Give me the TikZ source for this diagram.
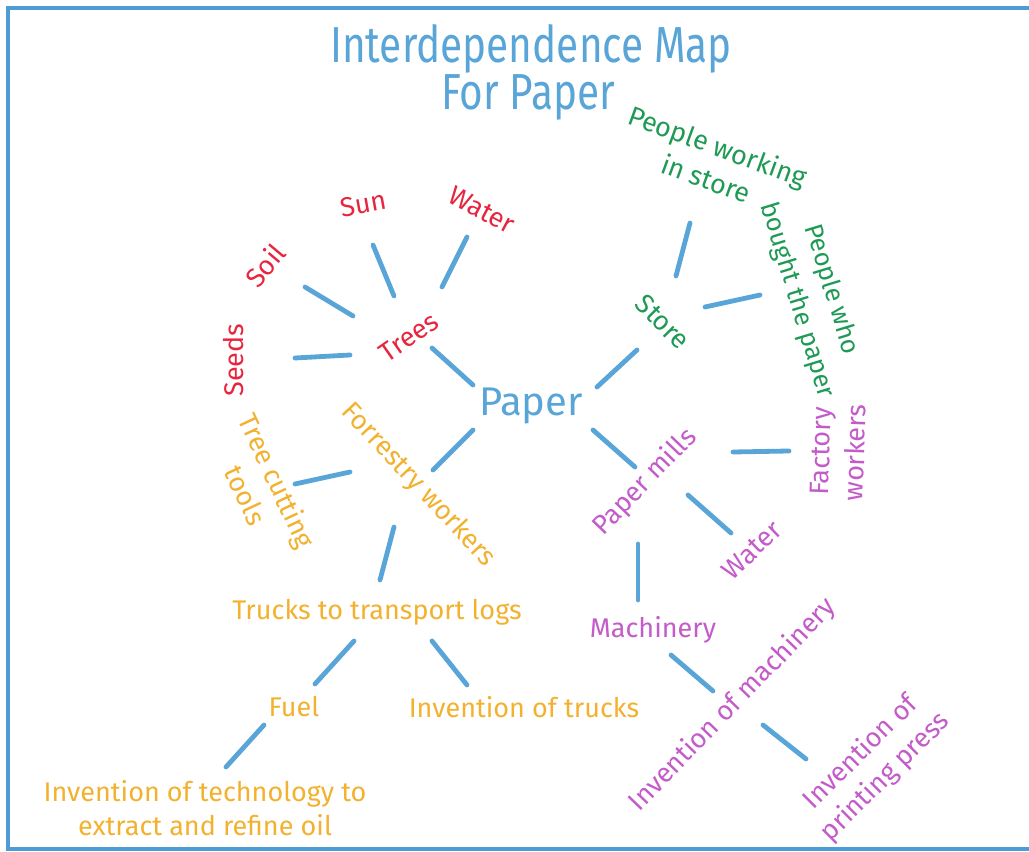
\documentclass[tikz,border=0pt]{standalone}
\usepackage{fontspec}
\setmainfont{Fira Sans}
\newfontfamily\titlefont[FakeStretch=0.8]{Fira Sans}
\definecolor{mapblue}{HTML}{5AA5D8}
\definecolor{frameblue}{HTML}{4F9BD6}
\definecolor{mapred}{HTML}{E8253F}
\definecolor{mapgreen}{HTML}{1F9A55}
\definecolor{maporange}{HTML}{F2B12E}
\definecolor{mappurple}{HTML}{C35BC9}
\tikzset{
  link/.style={draw=mapblue, line width=3.6pt, line cap=round},
  frameline/.style={draw=frameblue, line width=2.4pt},
  lbl/.style={inner sep=0pt, align=center, font=\fontsize{20.25}{26}\selectfont},
  rlbl/.style={lbl, text=mapred},
  glbl/.style={lbl, text=mapgreen},
  olbl/.style={lbl, text=maporange},
  plbl/.style={lbl, text=mappurple},
  titlelbl/.style={inner sep=0pt, text=mapblue, font=\titlefont\fontsize{38}{44}\selectfont},
}
\begin{document}
\begin{tikzpicture}[x=0.75pt, y=-0.75pt]
\useasboundingbox (0,0) rectangle (1029,852);
% frame
\coordinate (fa) at (1029,8);
\coordinate (fb) at (8,8);
\coordinate (fc) at (8,849);
\coordinate (fd) at (1029,849);
\draw[frameline] (fa) -- (fb) -- (fc) -- (fd);

% title
\node[titlelbl] (title1) at (531,49) {Interdependence Map};
\node[titlelbl] (title2) at (528,97) {For Paper};

% centre
\node[inner sep=0pt, text=mapblue, font=\fontsize{30}{36}\selectfont] (paper) at (531,406) {Paper};

% red
\node[rlbl, rotate=35] (trees) at (409,337) {Trees};
\node[rlbl, rotate=10] (sun) at (363,204) {Sun};
\node[rlbl, rotate=-28] (waterr) at (482,210) {Water};
\node[rlbl, rotate=50] (soil) at (265,265) {Soil};
\node[rlbl, rotate=90] (seeds) at (234,360) {Seeds};

% green
\node[glbl, rotate=-45] (store) at (663,322) {Store};
\node[glbl, rotate=-20] (pwork) at (712,162) {People working\\in store};
\node[glbl, rotate=-73, font=\fontsize{19.25}{27}\selectfont] (pbuy) at (814,295) {People who\\bought the paper};

% orange
\node[olbl, rotate=-47] (forr) at (418,485) {Forrestry workers};
\node[olbl, rotate=-65] (tools) at (262,488) {Tree cutting\\tools};
\node[olbl] (trucks) at (377,612) {Trucks to transport logs};
\node[olbl] (fuel) at (294,707) {Fuel};
\node[olbl] (invtrucks) at (524,707) {Invention of trucks};
\node[olbl] (invoil) at (205,808) {Invention of technology to\\extract and refine oil};

% purple
\node[plbl, rotate=46] (mills) at (645,482) {Paper mills};
\node[plbl, rotate=88] (factory) at (838,452) {Factory\\workers};
\node[plbl, rotate=44] (waterp) at (752,550) {Water};
\node[plbl] (mach) at (653,630) {Machinery};
\node[plbl, rotate=46] (invmach) at (733,705) {Invention of machinery};
\node[plbl, rotate=45] (invprint) at (873,765) {Invention of\\printing press};

% connector end points
\coordinate (a1) at (432,348);  \coordinate (b1) at (473,385);
\coordinate (a2) at (305,287);  \coordinate (b2) at (353,316);
\coordinate (a3) at (373,245);  \coordinate (b3) at (394,296);
\coordinate (a4) at (467,237);  \coordinate (b4) at (442,287);
\coordinate (a5) at (295,358);  \coordinate (b5) at (350,355);
\coordinate (a6) at (637,350);  \coordinate (b6) at (597,387);
\coordinate (a7) at (690,223);  \coordinate (b7) at (676,276);
\coordinate (a8) at (705,307);  \coordinate (b8) at (760,295);
\coordinate (a9) at (473,430);  \coordinate (b9) at (433,470);
\coordinate (a10) at (295,484); \coordinate (b10) at (350,472);
\coordinate (a11) at (394,527); \coordinate (b11) at (380,580);
\coordinate (a12) at (354,641); \coordinate (b12) at (315,684);
\coordinate (a13) at (432,641); \coordinate (b13) at (467,685);
\coordinate (a14) at (264,725); \coordinate (b14) at (226,767);
\coordinate (a15) at (593,430); \coordinate (b15) at (635,467);
\coordinate (a16) at (733,452); \coordinate (b16) at (789,451);
\coordinate (a17) at (688,495); \coordinate (b17) at (731,533);
\coordinate (a18) at (638,544); \coordinate (b18) at (638,600);
\coordinate (a19) at (671,655); \coordinate (b19) at (713,691);
\coordinate (a20) at (763,725); \coordinate (b20) at (806,759);

\foreach \i in {1,...,20} { \draw[link] (a\i) -- (b\i); }
\end{tikzpicture}
\end{document}
